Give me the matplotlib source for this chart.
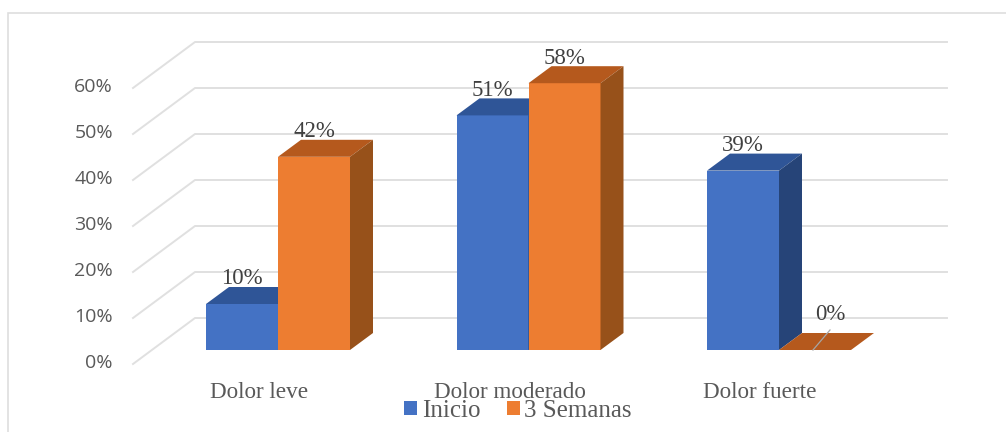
import matplotlib
matplotlib.use("Agg")
import matplotlib.pyplot as plt
from matplotlib.lines import Line2D
from matplotlib.patches import Polygon, Patch

categories = ["Dolor leve", "Dolor moderado", "Dolor fuerte"]
series_names = ["Inicio", "3 Semanas"]
inicio = [10, 51, 39]
semanas = [42, 58, 0]
ticks = [0, 10, 20, 30, 40, 50, 60]

W, H = 1006, 432
PX_Y = 4.6          # pixels per percent
PX_X = 250.5        # pixels per category
base_px, first_px = 350, 278
bar_w = 72 / PX_X
dep_x, dep_y = 23 / PX_X, 17 / PX_Y
wall_x, wall_y = 62 / PX_X, 46 / PX_Y
wall_front_v = -14 / PX_Y
left_x = (133 - first_px) / PX_X
right_x = (947 - first_px) / PX_X

BLUE = ("#4472c4", "#2f5597", "#264478")
ORANGE = ("#ed7d31", "#b5591d", "#97511a")
GRID = "#e0e0e0"
TEXT = "#595959"

fig = plt.figure(figsize=(W / 100, H / 100), dpi=100, facecolor="white")
ax = fig.add_axes([0, 0, 1, 1])
ax.set_xlim(-first_px / PX_X, (W - first_px) / PX_X)
ax.set_ylim(-(H - base_px) / PX_Y, base_px / PX_Y)
ax.axis("off")

# chart frame: only the left and top edges fall inside the picture
fig.add_artist(Line2D([8 / W, 8 / W, 1], [0, 1 - 12.5 / H, 1 - 12.5 / H],
                      transform=fig.transFigure, color="#dedede", lw=1.2,
                      solid_joinstyle="miter"))

for t in ticks:
    fv = t + wall_front_v
    ax.plot([left_x, left_x + wall_x, right_x], [fv, fv + wall_y, fv + wall_y],
            color=GRID, lw=1.4, zorder=1, solid_joinstyle="miter")
    ax.text((113 - first_px) / PX_X, fv + 0.3, f"{t}%", ha="right", va="center",
            fontsize=14, color=TEXT, family="Open Sans")


def draw_bar(x0, v, cols):
    ax.bar(x0, v, width=bar_w, align="edge", color=cols[0], zorder=3)
    x1 = x0 + bar_w
    ax.add_patch(Polygon([(x0, v), (x1, v), (x1 + dep_x, v + dep_y), (x0 + dep_x, v + dep_y)],
                         fc=cols[1], ec="none", zorder=3))
    ax.add_patch(Polygon([(x1, 0), (x1 + dep_x, dep_y), (x1 + dep_x, v + dep_y), (x1, v)],
                         fc=cols[2], ec="none", zorder=3))


for i, (a, b) in enumerate(zip(inicio, semanas)):
    draw_bar(i - bar_w, a, BLUE)
    draw_bar(i, b, ORANGE)

label_font = dict(fontsize=16.5, color="#404040", family="Liberation Serif",
                  ha="center", va="center", zorder=5)
for i, (a, b) in enumerate(zip(inicio, semanas)):
    ax.text(i - bar_w / 2, a + 25 / PX_Y, f"{a}%", **label_font)
    if b > 0:
        ax.text(i + bar_w / 2, b + 25 / PX_Y, f"{b}%", **label_font)
    else:
        cx = i + bar_w / 2
        ax.plot([cx - 2 / PX_X, cx + 15 / PX_X], [0, 20 / PX_Y], color="#a6a6a6", lw=0.9, zorder=4)
        ax.text(cx + 15 / PX_X, 36 / PX_Y, f"{b}%", **label_font)

for i, c in enumerate(categories):
    ax.text(i - 19 / PX_X, -42 / PX_Y, c, ha="center", va="center", fontsize=16.7,
            color=TEXT, family="Liberation Serif", zorder=5)

leg = ax.legend(handles=[Patch(fc=BLUE[0], label=series_names[0]),
                         Patch(fc=ORANGE[0], label=series_names[1])],
                loc="center", bbox_to_anchor=(518 / W, 1 - 411 / H), ncol=2, frameon=False,
                prop=dict(family="Liberation Serif", size=18), labelcolor=TEXT,
                handlelength=0.52, handleheight=0.52, handletextpad=0.2, columnspacing=1.04,
                borderpad=0, borderaxespad=0)
leg.set_zorder(6)

fig.savefig("out.png", dpi=100)
